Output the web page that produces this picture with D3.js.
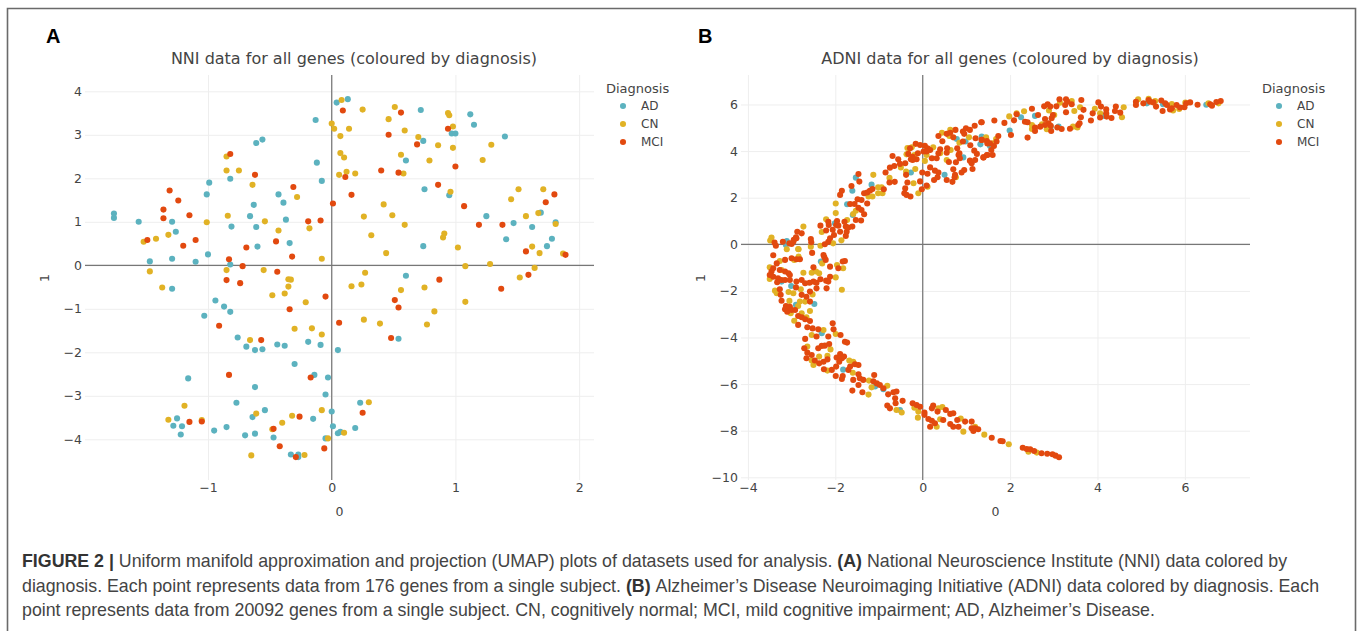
<!DOCTYPE html>
<html>
<head>
<meta charset="utf-8">
<script src="https://cdnjs.cloudflare.com/ajax/libs/d3/7.8.5/d3.min.js"></script>
<style>
    html, body { margin: 0; padding: 0; background: #fff; }
    svg { display: block; }
</style>
</head>
<body>
<svg id="chart" width="1357" height="631"></svg>
<script>
const categories = ['AD', 'CN', 'MCI'];
const colors = ['#5cb2bf', '#e1b225', '#e2490f'];

const nniXTicks = [-1, 0, 1, 2];
const nniYTicks = [-4, -3, -2, -1, 0, 1, 2, 3, 4];
const adniXTicks = [-4, -2, 0, 2, 4, 6];
const adniYTicks = [-10, -8, -6, -4, -2, 0, 2, 4, 6];

// NNI, values
const nniAD = [[-1.76,1.19],[-1.76,1.09],[-1.56,1],[-1.29,1],[-1.26,.77],[-1.47,.09],[-1.29,.15],[-1.1,.08],[-1,.25],[-1.01,1.63],[-.99,1.9],[-.82,1.99],[-.81,.89],[-.82,.02],[-.61,2.81],[-.56,2.89],[-.66,1.13],[-.63,1.39],[-.61,.88],[-.6,.43],[-.43,1.63],[-.39,1.44],[-.37,1.05],[-.34,.51],[-.13,3.34],[-.12,2.36],[-.08,1.94],[.04,3.74],[.13,3.82],[.72,3.57],[1.12,3.47],[1.15,3.23],[.97,3.03],[1,3.03],[1.4,2.96],[.74,2.86],[.6,2.41],[.75,1.75],[.95,1.61],[1.25,1.13],[1.47,.97],[1.62,.88],[1.69,1.21],[1.81,.99],[1.41,.6],[1.78,.61],[1.74,.44],[.74,.44],
    [-1.29,-.54],[-.94,-.81],[-.87,-.95],[-.82,-1.07],[-1.03,-1.16],[-.76,-1.66],[-.69,-1.87],[-.62,-1.95],[-.56,-1.93],[-.44,-1.82],[-.38,-1.85],[-.19,-1.76],[-.09,-1.83],[.05,-1.95],[-.3,-2.27],[-.14,-2.52],[-.03,-2.58],[-1.16,-2.6],[-.62,-2.8],[-.05,-2.97],[-.77,-3.16],[-.54,-3.33],[0,-3.36],[-1.25,-3.52],[-.64,-3.49],[-.15,-3.53],[-1.28,-3.69],[-1.21,-3.7],[-.85,-3.72],[-.95,-3.8],[-1.22,-3.89],[-.7,-3.91],[-.62,-3.87],[-.47,-3.96],[.01,-3.7],[.05,-3.86],[-.05,-3.98],[-.33,-4.35],[-.27,-4.35],[-.27,-4.41],[.6,-.24],[.54,-1.69],[.23,-3.16],[.07,-3.83],[.19,-3.74]];
const nniCN = [[-1.52,.54],[-1.42,.61],[-1.32,.7],[-1.01,.99],[-.85,2.5],[-.85,2.18],[-.75,2.18],[-.84,1.14],[-.64,1.85],[-.54,1.01],[-.43,.8],[-.28,1.57],[-.18,.85],[-.08,.15],[0,3.26],[.02,3.14],[.07,2.97],[.08,3.8],[.25,3.58],[.51,3.64],[.46,3.36],[.14,3.14],[.59,3.1],[.7,2.95],[.94,3.5],[.95,3.45],[.98,3.19],[.86,2.76],[.98,2.7],[1.29,2.77],[.07,2.58],[.1,2.48],[.56,2.54],[.79,2.41],[1.22,2.42],[.06,2.08],[.12,2.15],[.19,2.11],[.58,2.11],[.96,1.69],[1.51,1.75],[1.71,1.75],[1.45,1.52],[.42,1.4],[.26,1.12],[.49,1.15],[.59,.93],[1.57,1.13],[1.67,1.2],[1.81,.95],[.91,.73],[.9,.64],[.32,.69],[.44,.28],[1.02,.41],[1.62,.43],[1.68,.28],[1.87,.27],[1.08,-.02],[1.28,.03],[1.64,-.06],
    [-1.47,-.14],[-1.37,-.51],[-.85,-.11],[-.55,-.11],[-.35,-.32],[-.33,-.33],[-.35,-.49],[-.38,-.65],[-.48,-.69],[-.21,-.85],[-.3,-1.46],[-.16,-1.45],[-.08,-1.59],[-.66,-1.72],[-1.19,-3.23],[-1.32,-3.55],[-1.05,-3.56],[-.61,-3.41],[-.32,-3.46],[-.08,-3.33],[-.4,-3.62],[-.48,-3.77],[-.03,-3.98],[-.65,-4.37],[-.22,-4.36],[.27,-.17],[.16,-.48],[.24,-.44],[.56,-.57],[.75,-.51],[.26,-1.25],[.39,-1.34],[.77,-1.36],[.83,-1.06],[1.08,-.84],[1.52,-.28],[.3,-3.15],[.1,-3.85]];
const nniMCI = [[-1.49,.58],[-1.31,1.72],[-1.24,1.49],[-1.36,1.28],[-1.36,1.08],[-1.15,1.15],[-1.1,.58],[-1.2,.45],[-.82,2.56],[-.62,2.08],[-.31,1.8],[-.69,.41],[-.45,.55],[-.32,.2],[-.83,.14],[-.72,-.02],[-.19,1.01],[-.09,1.03],[.01,1.42],[.09,3.56],[.56,3.51],[.94,3.14],[.46,3],[.69,2.78],[1,2.27],[.4,2.18],[.54,2.13],[.11,2.03],[.86,1.85],[.16,1.62],[1.8,1.63],[1.73,1.45],[1.07,1.36],[1.19,.93],[1.38,.93],[1.57,.32],[1.89,.24],
    [-.44,-.15],[-.85,-.34],[-.74,-.41],[-.05,-.72],[-.34,-1.01],[-.91,-1.39],[-.57,-1.72],[-.83,-2.52],[-.17,-2.58],[-1.15,-3.6],[-1.05,-3.59],[-.47,-3.76],[-.26,-3.48],[-.42,-4.16],[-.06,-4.21],[-.29,-4.41],[.06,-1.32],[.87,-.33],[1.37,-.54],[1.59,-.22],[.51,-.8],[.54,-.97],[.48,-1.67],[.25,-3.39]];

// ADNI, values
const adniAD = [[-3.11,.14],[-3.13,-.03],[-1.53,2.86],[-1.61,2.3],[-1.17,2.56],[-1.73,1.72],[-1.6,1.26],[-2.01,.9],[-.27,3.08],[.5,2.98],[.93,3.73],[.78,4.52],[.98,4.41],[1.35,4.62],[1.32,4.29],
    [2.25,5.45],[2.57,5.51],[1.99,4.88],[1.54,4.22],[3.11,5.05],[2.93,5.05],[4.15,5.51],[5.13,6.05],[5.5,6.01],[6.49,5.99],
    [-3.01,-1.79],[-2.48,-2.56],[-2.9,-2.6],[-2.31,-3.82],[-2.33,-.74],[-1.82,-5.38],[-.9,-6.22],[-.52,-7.11],[-3.23,-1.6],[-1.09,-6.1]];
const adniCN = [[-3.46,.29],[-3.49,.16],[-3.11,-.21],[-2.84,-.21],[-2.73,.76],[-2.84,-.53],[-2.56,-.1],[-2.34,-.06],[-2.31,.53],[-2.21,1.07],[-1.99,1.34],[-1.99,1.75],[-2.05,.04],[-1.86,.17],[-1.73,1.04],[-1.59,1.3],[-1.53,1.44],[-1.13,2.98],[-.76,2.85],[-1.24,2.05],[-1.15,2.05],[-1.02,2.45],[-.94,2.45],[-1.02,2.19],[-.92,2.19],[-.5,3.3],[-.38,3.12],[-.17,3.23],[-.21,2.62],[-.1,2.19],[.11,2.47],[-.35,4.13],[-.37,3.86],[-.19,3.83],[-.25,4.16],[.24,4.16],[.05,3.58],[.09,3.83],[.55,3.62],[.64,4.05],[.44,4.79],[.63,4.91],[.61,4.65],[.84,4.36],[1.06,4.59],[1.45,4.59],[.76,2.88],[.4,3.91],
    [1.98,5.49],[2.15,5.62],[2.32,5.71],[2.5,5.12],[2.5,4.95],[2.73,5.15],[2.84,4.94],[3.01,5.55],[2.89,5.74],[3.14,6.08],[3.41,6.15],[3.47,5.72],[3.6,5.88],[3.44,5.05],[3.54,5.01],[3.94,5.82],[4.06,5.62],[4.6,5.88],[4.56,5.45],[4.93,6.22],[5.17,6.24],[5.32,6.15],[5.7,6.02],[5.73,5.74],[5.87,5.81],[6.01,6.08],[6.54,6.05],[6.77,6.05],[1.45,4.55],[1.6,4.33],[1.68,4.52],
    [-3.5,-.99],[-3.5,-1.49],[-3.38,-1.99],[-3.34,-2.1],[-3.07,-2.05],[-3.27,-.72],[-3.23,-1.1],[-2.94,-.67],[-2.85,-.2],[-2.73,-1.22],[-2.54,-1.22],[-2.44,-1.17],[-2.37,-1.24],[-2.3,-.82],[-1.96,-.89],[-1.82,-1.03],[-1.99,-1.42],[-1.85,-1.95],[-2.79,-1.93],[-2.96,-2.1],[-2.52,-2.15],[-3.05,-2.43],[-2.81,-2.46],[-2.69,-2.46],[-2.85,-2.65],[-2.58,-2.86],[-3.02,-2.96],[-2.77,-2.96],[-2.66,-3.13],[-2.94,-3.28],[-2.27,-3.68],[-2.54,-3.89],[-1.99,-3.85],[-2.11,-4.51],[-2.64,-4.39],[-2.37,-4.82],[-2.18,-4.79],[-2.54,-4.99],[-2.5,-5.18],[-2.18,-5.42],[-1.68,-4.99],[-1.59,-5.04],[-1.6,-5.51],[-1.23,-5.85],[-1.17,-6.14],[-1.24,-6.45],[-.81,-6.07],[-.6,-7.11],[-.48,-7.22],[-.19,-7.01],[-.1,-7.18],[-.11,-7.44],[.36,-7.04],[.45,-6.98],[.4,-7.51],[.32,-7.83],[.87,-7.48],[.93,-8.04],[1.2,-7.83],[1.41,-8.17],[1.97,-8.58],[2.42,-8.9],[2.61,-8.94]];
const adniMCI = [[-3.42,-.47],[-3.36,-.06],[-3.39,.07],[-3.2,.11],[-3.05,.04],[-3,.01],[-2.95,.19],[-2.9,.3],[-2.87,.54],[-2.77,.47],[-2.89,.26],[-2.96,.11],[-2.56,.23],[-2.55,.09],[-2.53,-.37],[-2.34,.8],[-2.16,.97],[-2.15,.83],[-2.21,.59],[-2.24,0],[-2.16,.11],[-2.12,.26],[-2.06,.62],[-2.03,.4],[-1.98,.83],[-1.96,1],[-1.93,.8],[-1.89,.54],[-1.79,.97],[-1.76,.76],[-1.74,.54],[-1.76,.36],[-1.7,.72],[-1.61,.76],[-1.53,1.04],[-1.41,1.02],[-1.34,1.29],[-1.4,1.47],[-1.47,1.57],[-1.66,1.73],[-1.56,1.73],[-1.49,1.93],[-1.4,1.9],[-1.27,1.75],[-1.89,2.12],[-1.85,2.3],[-1.63,2.5],[-1.45,2.69],[-1.47,3.02],[-1.34,2.19],[-1.27,2.22],[-1.21,2.3],[-1.15,2.37],[-.89,2.36],[-.85,3.08],[-.75,3.29],[-.69,3.79],[-.65,3.36],[-.56,3.65],[-.52,3.45],[-.76,2.65],[-.64,2.68],[-.4,3.48],[-.27,3.65],[-.23,3.62],[-.33,3.88],[-.29,4.12],[-.16,4.31],[-.06,4.26],[.05,4.23],[-.38,2.98],[-.35,2.65],[-.4,2.4],[-.42,2.19],[-.37,2.12],[-.28,2.05],
    [.11,4.12],[.17,4.05],[.02,3.98],[.09,3.98],[-.11,3.91],[-.14,3.65],[-.23,3.76],[-.06,2.7],[-.01,3.08],[.11,3.03],[.17,3.3],[-.02,2.36],[.09,2.52],[.28,3.16],[.36,3.08],[.26,2.76],[.34,2.88],[.55,2.76],[.68,2.68],[.21,3.69],[.32,3.69],[.36,3.91],[.4,4.08],[.36,4.65],[.45,4.42],[.55,4.74],[.63,4.79],[.75,4.91],[.7,4.59],[.79,4.12],[.82,3.83],[.85,3.69],[.76,3.52],[.6,3.53],[.56,4.12],[.55,3.93],[.7,3.22],[.74,2.98],[.73,2.88],[.89,3.08],[.95,3.19],[1.14,3.23],[1.12,3.48],[1.2,3.62],[1.08,3.59],[.92,4.41],[.95,4.74],[.92,4.84],[.99,4.98],[1.08,4.91],[1.19,5.09],[1.34,5.24],[1.21,4.55],[1.09,4.25],[1.18,4.02],[1.24,3.88],[1.39,3.73],[1.48,3.83],[1.35,4.48],[1.47,4.43],[1.54,4.33],[.84,3.91],
    [1.35,5.24],[1.64,5.31],[1.87,5.21],[2.09,5.32],[2.15,5.58],[2.5,5.82],[2.64,5.55],[2.34,5.26],[2.4,5.24],[2.78,5.92],[2.86,6.01],[2.92,5.91],[3.06,5.92],[3.13,6.22],[3.28,6.22],[3.26,5.98],[3.31,6.12],[3.41,6.01],[3.63,6.19],[3.28,5.67],[3.68,5.77],[3.62,5.45],[2.8,5.38],[2.95,5.41],[2.98,5.55],[2.88,5.19],[2.8,5.12],[2.93,5.09],[2.69,5.05],[2.57,5.01],[2.57,4.86],[2.94,4.86],[3.08,5.01],[3.18,4.95],[3.37,4.96],[3.56,5.12],[3.59,5.19],[2.4,4.58],[2.02,4.69],[1.73,4.65],[1.69,4.41],[1.63,4.22],[1.57,4.05],[1.6,3.83],[1.47,3.83],[1.39,3.73],[1.48,4.33],[1.35,4.48],[3.85,5.31],[3.89,5.62],[4.02,6.09],[4.08,5.91],[4.2,5.79],[4.2,5.62],[4.06,5.44],[4.21,5.48],[4.32,5.42],[4.42,5.91],[4.4,5.72],[4.52,5.65],[4.88,6.12],[4.88,5.98],[5.05,6.05],[5.17,6.19],[5.2,6.12],[5.34,5.91],[5.28,6.09],[5.46,6.17],[5.55,6.05],[5.59,5.98],[5.49,5.72],[5.66,5.79],[5.7,5.84],[5.81,5.98],[5.89,5.87],[5.99,5.88],[6.03,6.05],[6.12,6.09],[6.29,5.99],[6.58,6.01],[6.62,5.95],[6.72,6.11],[6.82,6.15],
    [-3.15,-.67],[-3,-.6],[-2.89,-.64],[-2.81,-.64],[-3.34,-.82],[-3.42,-1.03],[-3.27,-1.1],[-3.46,-1.17],[-3.5,-1.32],[-3.42,-1.39],[-3.15,-1.17],[-3.07,-1.24],[-3.04,-1.32],[-3.31,-1.46],[-3.33,-1.63],[-3.23,-1.53],[-3.15,-1.53],[-3.04,-1.53],[-2.89,-1.6],[-2.77,-1.53],[-2.69,-1.67],[-2.59,-1.65],[-2.5,-1.6],[-2.43,-1.65],[-2.34,-1.5],[-2.21,-1.56],[-2.16,-1.6],[-2.12,-1.39],[-2.2,-1.89],[-2.43,-1.89],[-2.58,-2.03],[-2.9,-1.85],[-3.27,-1.93],[-3.25,-2.17],[-3.23,-2.42],[-2.77,-2.17],[-2.66,-2.25],[-2.58,-2.46],[-3.13,-2.65],[-3.15,-2.79],[-3.1,-2.89],[-3.04,-2.68],[-3,-2.82],[-2.92,-2.82],[-2.85,-3.08],[-2.77,-3.13],[-2.69,-3.22],[-2.58,-3.29],[-2.85,-3.46],[-2.64,-3.56],[-2.52,-3.61],[-2.39,-3.65],[-2.43,-3.96],[-2.69,-4.06],[-2.06,-3.39],[-2.04,-3.65],[-1.88,-3.89],[-1.78,-4.18],[-1.73,-4.22],[-2.16,-3.96],[-2.14,-4.28],[-2.24,-4.35],[-2.31,-4.36],[-2.39,-4.46],[-2.71,-4.46],[-2.64,-4.65],[-2.54,-4.75],[-2.66,-4.89],[-2.47,-4.99],[-2.37,-5.11],[-2.27,-5.04],[-2.18,-4.94],[-2.26,-5.36],[-1.97,-4.86],[-1.89,-4.71],[-1.85,-4.89],[-1.8,-4.82],[-1.91,-5.04],[-1.98,-5.25],[-2.08,-5.39],[-1.99,-5.65],[-1.85,-5.78],[-1.83,-5.65],[-1.7,-5.39],[-1.66,-5.25],[-1.55,-5.15],[-1.47,-5.18],[-1.59,-5.82],[-1.47,-5.58],[-1.44,-5.75],[-1.47,-6.04],[-1.36,-5.82],[-1.61,-6.28],[-1.38,-6.35],[-1.11,-5.61],[-1.13,-5.88],[-1.05,-5.97],[-.98,-6.04],[-.9,-6.18],[-.79,-6.44],[-.67,-6.35],[-.6,-6.32],[-.63,-6.61],[-.46,-6.72],[-.62,-6.82],[-.81,-6.92],[-.75,-7.04],[-.23,-6.82],[-.14,-6.9],[-.06,-6.97],[.04,-7.22],[.04,-7.32],[.24,-6.92],[.21,-7.04],[.34,-7.18],[.53,-7.11],[.13,-7.5],[.21,-7.57],[.17,-7.83],[.28,-7.68],[.47,-7.54],[.63,-7.28],[.7,-7.25],[.79,-7.54],[.63,-7.71],[.7,-7.83],[.82,-7.83],[.97,-7.61],[1.12,-7.61],[1.12,-7.9],[1.16,-8.01],[1.2,-7.9],[1.27,-7.94],[1.58,-8.3],[1.78,-8.44],[1.83,-8.45],[2.29,-8.73],[2.38,-8.79],[2.46,-8.8],[2.55,-8.87],[2.72,-8.97],[2.85,-8.99],[2.97,-9.01],[3.04,-9.07],[3.12,-9.14],
    [-2.27,-.46],[-2.25,-.56],[-2.22,-.67],[-2.5,-.99],[-2.12,-.96],[-1.93,-1.03],[-1.83,-.74],[-1.78,-.72]];

const svg = d3.select('#chart');
const chartFont = '"DejaVu Sans", Verdana, sans-serif';

// figure frame, runs off the bottom of the page
svg.append('path')
    .attr('d', 'M7.5,640V8.5H1355.5V640')
    .attr('fill', 'none')
    .attr('stroke', '#6a6a6a')
    .attr('stroke-width', 1.6);

function drawPanel(p) {
    const x = d3.scaleLinear().domain(p.xDomain).range([p.left, p.right]),
        y = d3.scaleLinear().domain(p.yDomain).range([480, 75]);

    const g = svg.append('g').attr('font-family', chartFont);

    let xAxis = g.append('g')
        .attr('transform', 'translate(0,480)')
        .call(d3.axisBottom(x).tickValues(p.xTicks).tickFormat(d3.format('d')).tickSize(-405).tickPadding(3));
    let yAxis = g.append('g')
        .attr('transform', 'translate(' + p.left + ',0)')
        .call(d3.axisLeft(y).tickValues(p.yTicks).tickFormat(d3.format('d')).tickSize(-(p.right - p.left)).tickPadding(3));

    [xAxis, yAxis].forEach(axis => {
        axis.select('.domain').remove();
        axis.selectAll('.tick line').attr('stroke', '#eeeeee').attr('stroke-width', 1);
        axis.selectAll('.tick text')
            .attr('fill', '#444')
            .attr('font-family', chartFont)
            .attr('font-size', 12.5);
    });

    // zero lines
    g.append('line')
        .attr('x1', x(0)).attr('x2', x(0)).attr('y1', 75).attr('y2', 480)
        .attr('stroke', '#777').attr('stroke-width', 1.2);
    g.append('line')
        .attr('x1', p.left).attr('x2', p.right).attr('y1', y(0)).attr('y2', y(0))
        .attr('stroke', '#777').attr('stroke-width', 1.2);

    p.series.forEach((points, i) => {
        g.append('g').selectAll('circle')
            .data(points)
            .join('circle')
            .attr('cx', d => x(d[0]))
            .attr('cy', d => y(d[1]))
            .attr('r', 3.05)
            .attr('fill', colors[i]);
    });

    g.append('text')
        .attr('x', p.titleX).attr('y', 64)
        .attr('text-anchor', 'middle')
        .attr('font-size', 16)
        .attr('fill', '#444')
        .text(p.title);

    g.append('text')
        .attr('x', (p.left + p.right) / 2).attr('y', 516)
        .attr('text-anchor', 'middle')
        .attr('font-size', 12.5)
        .attr('fill', '#444')
        .text('0');
    g.append('text')
        .attr('transform', 'translate(' + (p.left - 36) + ',278) rotate(-90)')
        .attr('text-anchor', 'middle')
        .attr('font-size', 12.5)
        .attr('fill', '#444')
        .text('1');

    // legend
    let lx = p.right + 12;
    g.append('text')
        .attr('x', lx).attr('y', 93)
        .attr('font-size', 13)
        .attr('fill', '#444')
        .text('Diagnosis');
    categories.forEach((c, i) => {
        let ly = 106 + i * 18;
        g.append('circle')
            .attr('cx', lx + 17).attr('cy', ly).attr('r', 3.05).attr('fill', colors[i]);
        g.append('text')
            .attr('x', lx + 35).attr('y', ly + 4)
            .attr('font-size', 12)
            .attr('fill', '#444')
            .text(c);
    });

    svg.append('text')
        .attr('x', p.labelX).attr('y', 43)
        .attr('font-family', '"Liberation Sans", Arial, sans-serif')
        .attr('font-weight', 'bold')
        .attr('font-size', 20)
        .attr('fill', '#000')
        .text(p.label);
}

drawPanel({
    label: 'A', labelX: 46,
    title: 'NNI data for all genes (coloured by diagnosis)', titleX: 354,
    left: 85, right: 594,
    xDomain: [-1.994, 2.12], yDomain: [-4.936, 4.375],
    xTicks: nniXTicks, yTicks: nniYTicks,
    series: [nniAD, nniCN, nniMCI]
});

drawPanel({
    label: 'B', labelX: 698,
    title: 'ADNI data for all genes (coloured by diagnosis)', titleX: 1010,
    left: 741, right: 1250,
    xDomain: [-4.158, 7.49], yDomain: [-10.116, 7.266],
    xTicks: adniXTicks, yTicks: adniYTicks,
    series: [adniAD, adniCN, adniMCI]
});

// caption
const captionLines = [
    [['FIGURE 2 | ', 1], ['Uniform manifold approximation and projection (UMAP) plots of datasets used for analysis. ', 0], ['(A) ', 1], ['National Neuroscience Institute (NNI) data colored by', 0]],
    [['diagnosis. Each point represents data from 176 genes from a single subject. ', 0], ['(B) ', 1], ['Alzheimer\u2019s Disease Neuroimaging Initiative (ADNI) data colored by diagnosis. Each', 0]],
    [['point represents data from 20092 genes from a single subject. CN, cognitively normal; MCI, mild cognitive impairment; AD, Alzheimer\u2019s Disease.', 0]]
];
captionLines.forEach((line, i) => {
    let t = svg.append('text')
        .attr('x', 22).attr('y', 567 + i * 24.6)
        .attr('font-family', '"Liberation Sans", Arial, sans-serif')
        .attr('font-size', 17.8)
        .attr('fill', '#444');
    line.forEach(part => {
        t.append('tspan')
            .attr('font-weight', part[1] ? 'bold' : 'normal')
            .attr('fill', part[1] ? '#333' : '#444')
            .text(part[0]);
    });
});
</script>
</body>
</html>
